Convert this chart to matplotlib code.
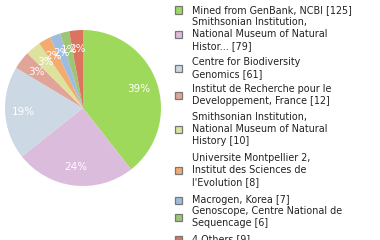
import numpy as np
import matplotlib
matplotlib.use("Agg")
import matplotlib.pyplot as plt
from matplotlib.patches import Rectangle

# data
names = ["Mined from GenBank, NCBI [125]",
         "Smithsonian Institution,\nNational Museum of Natural\nHistor... [79]",
         "Centre for Biodiversity\nGenomics [61]",
         "Institut de Recherche pour le\nDeveloppement, France [12]",
         "Smithsonian Institution,\nNational Museum of Natural\nHistory [10]",
         "Universite Montpellier 2,\nInstitut des Sciences de\nl'Evolution [8]",
         "Macrogen, Korea [7]",
         "Genoscope, Centre National de\nSequencage [6]",
         "4 Others [9]"]
counts = [125, 79, 61, 12, 10, 8, 7, 6, 9]
pct_labels = ["39%", "24%", "19%", "3%", "3%", "2%", "2%", "1%", "2%"]
colors = ["#9ed95c", "#dcbcdc", "#ccd9e5", "#e0a598", "#dde39c",
          "#f3ab70", "#9dbce0", "#9dc574", "#dc735f"]

W, H = 380, 240
fig = plt.figure(figsize=(W / 100, H / 100), dpi=100)

cx, cy, r = 83, 108, 78
ax = fig.add_axes([(cx - r) / W, (H - cy - r) / H, 2 * r / W, 2 * r / H])
wedges, texts = ax.pie(counts, colors=colors, startangle=90, counterclock=False,
                       labels=pct_labels, labeldistance=0.76, radius=1.0,
                       wedgeprops=dict(linewidth=0),
                       textprops=dict(color="white", fontsize=7.5,
                                      ha="center", va="center"))
ax.set_xlim(-1, 1)
ax.set_ylim(-1, 1)
ax.set_aspect("auto")
ax.axis("off")

# legend
box_y = [10, 34, 68, 95, 129, 170, 200, 217, 239]
for name, col, by in zip(names, colors, box_y):
    fig.patches.append(Rectangle((175 / W, 1 - (by + 3.5) / H), 7 / W, 7 / H,
                                 transform=fig.transFigure, facecolor=col,
                                 edgecolor="#777777", linewidth=0.9))
    fig.text(192 / W, 1 - by / H, name, fontsize=6.9, color="#222222",
             ha="left", va="center", linespacing=1.3)

fig.savefig("out.png", dpi=100)
